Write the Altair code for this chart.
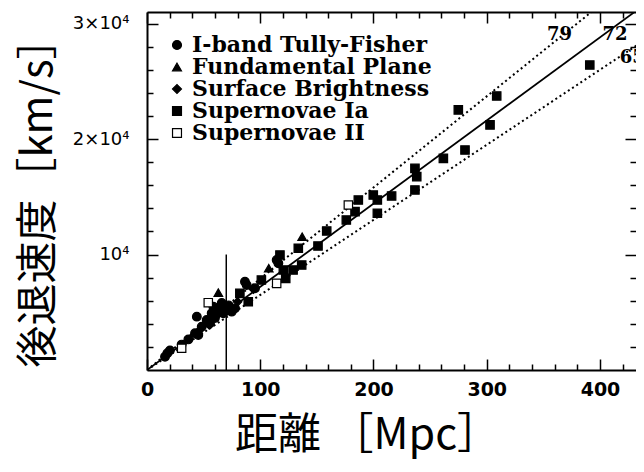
import altair as alt
import pandas as pd

# ---------------- data ----------------
types = ["I-band Tully-Fisher", "Fundamental Plane", "Surface Brightness",
         "Supernovae Ia", "Supernovae II"]
shapes = ["circle", "triangle-up", "diamond", "square", "square"]
fills = ["black", "black", "black", "black", "white"]
strokes = ["black", "black", "black", "black", "black"]
marker_sizes = [110, 80, 80, 75, 70]

tf_d = [15.9, 18.0, 20.3, 30.6, 36.5, 42.4, 45.3, 44.0, 48.3, 52.7, 55.6, 57.1,
        58.6, 60.0, 62.0, 64.5, 66.0, 67.4, 70.4, 72.0, 74.8, 77.7, 86.5, 88.0,
        95.4, 114.5, 116.0]
tf_v = [1150, 1450, 1700, 2200, 2650, 3180, 3030, 4620, 3750, 4330, 4040, 4910,
        5480, 4500, 5000, 5480, 5800, 4910, 5200, 5600, 5050, 5340, 7650, 7360,
        7080, 9530, 9240]

fp_d = [63.0, 107.5, 137.0]
fp_v = [6700, 8810, 11540]

sbf_d = [47.0, 55.0, 61.0, 80.0, 94.0]
sbf_v = [3500, 3900, 4700, 5900, 7000]

sn1a_d = [82.0, 89.4, 101.0, 117.4, 120.4, 122.5, 129.0, 133.6, 136.6, 151.0,
          158.7, 176.0, 183.7, 186.6, 199.8, 203.4, 203.4, 216.0, 236.6, 238.2,
          236.6, 261.7, 280.8, 274.9, 302.9, 308.8, 391.0]
sn1a_v = [6640, 5910, 7790, 9960, 8660, 7940, 8660, 10540, 9090, 10740,
          12040, 12990, 13710, 14720, 15150, 14720, 13570, 15070, 17460, 16740,
          15590, 18330, 19050, 22520, 21220, 23730, 26410]

sn2_d = [30.6, 54.1, 114.5, 177.8]
sn2_v = [1880, 5830, 7500, 14290]

h_values = [65, 72, 79]
line_d = [0, 480]
h_label_text = ["79", "72", "65"]
h_label_d = [364.2, 413.2, 428.5]
h_label_v = [29000, 29000, 26980]

rule_d = [70]
rule_v = [0]
rule_v2 = [10000]

x_major = [0, 100, 200, 300, 400]
x_minor = [20, 40, 60, 80, 120, 140, 160, 180, 220, 240, 260, 280,
           320, 340, 360, 380, 420]
y_major = [10000, 20000, 30000]
y_minor = [2000, 4000, 6000, 8000, 12000, 14000, 16000, 18000,
           22000, 24000, 26000, 28000]

XMAX = 431.8
YMAX = 31000
W, H = 489, 358

# ---------------- tables ----------------
rows = []
for t, ds, vs in [(types[0], tf_d, tf_v), (types[1], fp_d, fp_v),
                  (types[2], sbf_d, sbf_v), (types[3], sn1a_d, sn1a_v),
                  (types[4], sn2_d, sn2_v)]:
    for d, v in zip(ds, vs):
        rows.append({"d": d, "v": v, "type": t, "grp": t})
points_df = pd.DataFrame(rows)

lines_df = pd.DataFrame([{"H": h, "d": d, "v": h * d} for h in h_values for d in line_d])
labels_df = pd.DataFrame({"d": h_label_d, "v": h_label_v, "t": h_label_text})
rule_df = pd.DataFrame({"d": rule_d, "v": rule_v, "v2": rule_v2})

xs = alt.Scale(domain=[0, XMAX], nice=False, zero=False)
ys = alt.Scale(domain=[0, YMAX], nice=False, zero=False)

LABEL_FONT = "DejaVu Sans"
TITLE_FONT = "Noto Sans CJK JP"
LEGEND_FONT = "DejaVu Serif"

# ---------------- inward tick axes ----------------
def x_ticks(values, orient, offset, size, domain=False):
    return alt.Chart(pd.DataFrame({"t": values})).mark_point(opacity=0).encode(
        x=alt.X("t:Q", scale=xs, axis=alt.Axis(
            orient=orient, offset=offset, values=values, labels=False,
            domain=domain, domainWidth=2, domainColor="black",
            ticks=True, tickSize=size, tickWidth=1.5, tickColor="black",
            grid=False, title="")))

def y_ticks(values, orient, offset, size):
    return alt.Chart(pd.DataFrame({"t": values})).mark_point(opacity=0).encode(
        y=alt.Y("t:Q", scale=ys, axis=alt.Axis(
            orient=orient, offset=offset, values=values, labels=False,
            domain=False, ticks=True, tickSize=size, tickWidth=1.5,
            tickColor="black", grid=False, title="")))

tick_layers = [
    x_ticks(x_major, "top", -H, 11),            # bottom edge, pointing up
    x_ticks(x_minor, "top", -H, 6),
    x_ticks(x_major, "bottom", -H, 11, True),   # top edge, pointing down
    x_ticks(x_minor, "bottom", -H, 6),
    y_ticks(y_major, "right", -W, 11),          # left edge, pointing right
    y_ticks(y_minor, "right", -W, 6),
    y_ticks(y_major, "left", -W, 11),           # right edge, pointing left
    y_ticks(y_minor, "left", -W, 6),
]

# ---------------- main layers ----------------
solid = alt.Chart(lines_df).transform_filter("datum.H == 72").mark_line(
    clip=True, color="black", strokeWidth=1.8).encode(
    x=alt.X("d:Q", scale=xs, axis=alt.Axis(
        orient="bottom", values=x_major, ticks=False, tickSize=0,
        labelPadding=10, labelFlush=False, labelFont=LABEL_FONT,
        labelFontSize=19, labelFontWeight="bold", labelColor="black",
        labelBaseline="top",
        domain=True, domainWidth=2, domainColor="black", grid=False,
        title="距離 ［Mpc］", titleFont=TITLE_FONT, titleFontSize=43,
        titleFontWeight="normal", titleColor="black", titleX=220, titleY=65,
        titleAlign="center", titleBaseline="middle")),
    y=alt.Y("v:Q", scale=ys, axis=alt.Axis(
        orient="left", values=y_major, ticks=False, tickSize=0,
        labelPadding=18, labelFlush=False, labelFont=LABEL_FONT,
        labelFontSize=18, labelColor="black",
        labelExpr="datum.value == 10000 ? '10⁴' : (datum.value / 10000) + '×10⁴'",
        domain=True, domainWidth=2, domainColor="black", grid=False,
        title="後退速度［km/s］", titleFont=TITLE_FONT, titleFontSize=42,
        titleFontWeight="normal", titleColor="black", titleAngle=270,
        titleX=-109, titleY=180, titleAlign="center", titleBaseline="middle")),
    detail="H:N")

dotted = alt.Chart(lines_df).transform_filter("datum.H != 72").mark_line(
    clip=True, color="black", strokeWidth=2, strokeDash=[2, 3]).encode(
    x=alt.X("d:Q", scale=xs, axis=None),
    y=alt.Y("v:Q", scale=ys, axis=None),
    detail="H:N")

vrule = alt.Chart(rule_df).mark_rule(color="black", strokeWidth=1.5).encode(
    x=alt.X("d:Q", scale=xs, axis=None),
    y=alt.Y("v:Q", scale=ys, axis=None),
    y2="v2:Q")

legend = alt.Legend(
    title=None, orient="none", legendX=19, legendY=22, padding=0,
    labelFont=LEGEND_FONT, labelFontWeight="bold", labelFontSize=22,
    labelColor="black", labelLimit=400, labelOffset=4, symbolSize=80,
    symbolStrokeWidth=1.2, rowPadding=0, clipHeight=22)

# size scale gets its own (reordered) domain so that it is not merged into the legend
size_domain = types[::-1]
size_range = marker_sizes[::-1]

pts = alt.Chart(points_df).mark_point(
    filled=True, strokeWidth=1.2, opacity=1).encode(
    x=alt.X("d:Q", scale=xs, axis=None),
    y=alt.Y("v:Q", scale=ys, axis=None),
    shape=alt.Shape("type:N", scale=alt.Scale(domain=types, range=shapes), legend=legend),
    fill=alt.Fill("type:N", scale=alt.Scale(domain=types, range=fills), legend=legend),
    stroke=alt.Stroke("type:N", scale=alt.Scale(domain=types, range=strokes), legend=legend),
    size=alt.Size("grp:N", scale=alt.Scale(domain=size_domain, range=size_range), legend=None))

hlabels = alt.Chart(labels_df).mark_text(
    font=LEGEND_FONT, fontWeight="bold", fontSize=18, color="black",
    align="center", baseline="middle").encode(
    x=alt.X("d:Q", scale=xs, axis=None),
    y=alt.Y("v:Q", scale=ys, axis=None),
    text="t:N")

chart = alt.layer(*tick_layers, solid, dotted, vrule, pts, hlabels).resolve_axis(
    x="independent", y="independent").properties(
    width=W, height=H,
    padding={"left": 139, "top": 4, "right": 0, "bottom": 90},
    autosize=alt.AutoSizeParams(type="none"),
    background="white").configure_view(strokeWidth=0)

chart.save("out.html", embed_options={"renderer": "svg", "actions": False})
